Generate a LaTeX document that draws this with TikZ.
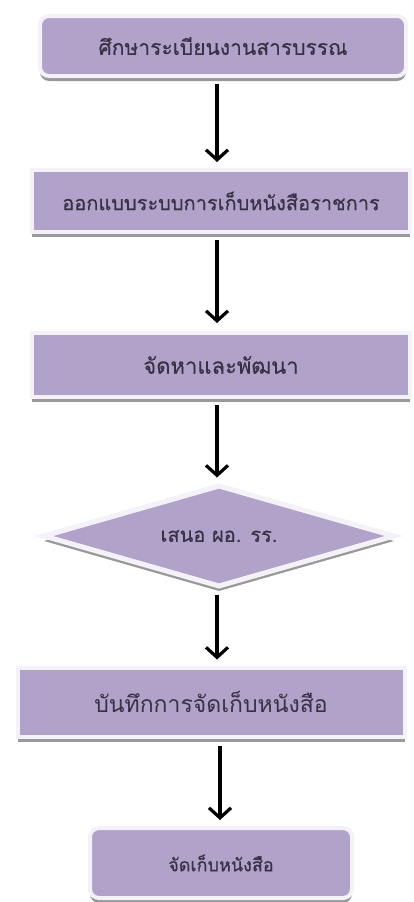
\documentclass[tikz,border=0pt]{standalone}
\usepackage{fontspec}
\newfontfamily\thaifont[Script=Thai,FakeBold=0.35]{Loma}
\newfontfamily\thaiplain[Script=Thai]{Loma}
\usetikzlibrary{shapes.geometric,arrows.meta,shadows}
\definecolor{boxfill}{HTML}{B0A2C8}
\definecolor{boxline}{HTML}{F4F1F8}
\definecolor{txt}{HTML}{3A3046}
\definecolor{shade}{HTML}{8E8E8E}
\newcommand{\tsz}[1]{\thaifont\fontsize{#1}{#1}\selectfont}
\tikzset{
  flowbox/.style={rectangle, fill=boxfill, draw=boxline, line width=4pt, inner sep=0pt,
    text=txt, font=\tsz{20},
    drop shadow={shadow xshift=0pt, shadow yshift=-5pt, fill=shade, opacity=0.9}},
  roundbox/.style={flowbox, rounded corners=9pt},
  decision/.style={diamond, fill=boxfill, draw=boxline, line width=5pt, inner sep=0pt, aspect=3.45,
    text=txt, font=\tsz{20},
    drop shadow={shadow xshift=0pt, shadow yshift=-5pt, fill=shade, opacity=0.9}},
  flowarrow/.style={line width=3.2pt, -{Straight Barb[length=10pt,width=22pt,line width=3.2pt]}, black}
}
\begin{document}
\begin{tikzpicture}[x=1pt,y=-1pt]
\useasboundingbox (0,0) rectangle (414,902);
\node[roundbox, minimum width=366pt, minimum height=60pt, font=\tsz{21}] (b1) at (223,46) {ศึกษาระเบียนงานสารบรรณ};
\node[flowbox, minimum width=378pt, minimum height=62pt, font=\tsz{20}] (b2) at (221,201) {ออกแบบระบบการเก็บหนังสือราชการ};
\node[flowbox, minimum width=378pt, minimum height=64pt, font=\tsz{22}] (b3) at (221,365) {จัดหาและพัฒนา};
\node[decision, minimum width=352pt, minimum height=102pt, font=\tsz{20}] (d4) at (219,536) {เสนอ ผอ. รร.};
\node[flowbox, minimum width=387pt, minimum height=69pt, font=\thaiplain\fontsize{23}{23}\selectfont] (b5) at (211,702) {บันทึกการจัดเก็บหนังสือ};
\node[roundbox, minimum width=262pt, minimum height=70pt, font=\tsz{18}] (b6) at (221,863) {จัดเก็บหนังสือ};
\coordinate (c1) at (217,0);
\coordinate (c2) at (220,0);
\draw[flowarrow, shorten <=6pt, shorten >=6pt] (b1.south -| c1) -- (b2.north -| c1);
\draw[flowarrow, shorten <=6pt, shorten >=8pt] (b2.south -| c1) -- (b3.north -| c1);
\draw[flowarrow, shorten <=6pt, shorten >=5pt] (b3.south -| c1) -- (d4.north -| c1);
\draw[flowarrow, shorten <=5pt, shorten >=6pt] (d4.south -| c1) -- (b5.north -| c1);
\draw[flowarrow, shorten <=7pt, shorten >=6pt] (b5.south -| c2) -- (b6.north -| c2);
\end{tikzpicture}
\end{document}
